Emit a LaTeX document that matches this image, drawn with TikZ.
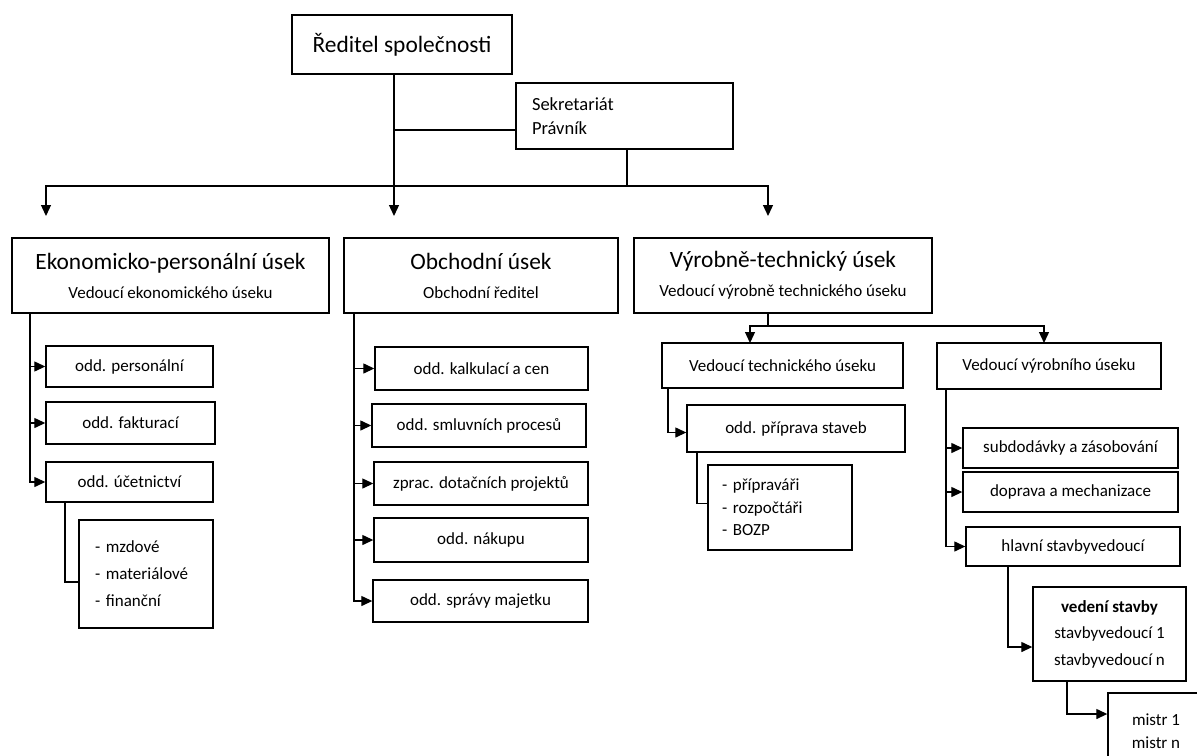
\documentclass[tikz,border=0pt]{standalone}
\usepackage{fontspec}
\setmainfont{Carlito}
\usetikzlibrary{arrows.meta}

\newcommand\fbig{\fontsize{11.7pt}{14pt}\selectfont}
\newcommand\fsm{\fontsize{8.5pt}{11pt}\selectfont}
\newcommand\fsek{\fontsize{9.25pt}{12pt}\selectfont}

\tikzset{
    box/.style={draw, line width=0.7pt, inner sep=0pt, align=center, font=\fsm},
    head/.style={draw, line width=0.7pt, inner sep=0pt, align=center,
        font=\fontsize{8.5pt}{14.5pt}\selectfont},
    line/.style={line width=0.65pt},
    arr/.style={line, -{Triangle[width=5pt,length=5.5pt]}},
}

\begin{document}
\begin{tikzpicture}[x=0.5pt, y=-0.5pt]

    \useasboundingbox (0,0) rectangle (1197,755);
    \clip (0,0) rectangle (1197,755);

    % director and secretariat
    \node[box, minimum width=110pt, minimum height=29.5pt, font=\fbig] (ceo) at (402,44.5) {Ředitel společnosti};
    \node[box, minimum height=33pt, text width=92.5pt, align=left, inner xsep=8pt, font=\fsek] (sekr) at (624.5,116) {Sekretariát\\Právník};

    % divisions
    \node[head, minimum width=158.5pt, minimum height=37.5pt] (eko) at (170.5,275.5) {{\fbig Ekonomicko-personální úsek}\\Vedoucí ekonomického úseku};
    \node[head, minimum width=137pt, minimum height=37.5pt] (obch) at (481,275.5) {{\fbig Obchodní úsek}\\Obchodní ředitel};
    \node[head, minimum width=149pt, minimum height=37.5pt] (vyr) at (783,275.5) {{\fbig Výrobně-technický úsek}\\Vedoucí výrobně technického úseku};

    % economic division
    \node[box, minimum width=83.5pt, minimum height=20.5pt] (pers) at (129.5,366.5) {odd. personální};
    \node[box, minimum width=84.5pt, minimum height=21pt] (fakt) at (130.5,423) {odd. fakturací};
    \node[box, minimum width=83.5pt, minimum height=20pt] (ucet) at (129.5,482) {odd. účetnictví};
    \node[box, minimum height=54pt, text width=51pt, align=left, inner xsep=8pt,
        font=\fontsize{8.5pt}{13.5pt}\selectfont] (ucetsub) at (146,574) {- mzdové\\- materiálové\\- finanční};

    % business division
    \node[box, minimum width=106.5pt, minimum height=21.5pt] (kalk) at (481.5,368.5) {odd. kalkulací a cen};
    \node[box, minimum width=107pt, minimum height=21.5pt] (smlu) at (479,425.5) {odd. smluvních procesů};
    \node[box, minimum width=107pt, minimum height=21.5pt] (dota) at (481,483.5) {zprac. dotačních projektů};
    \node[box, minimum width=107pt, minimum height=22pt] (naku) at (481,540) {odd. nákupu};
    \node[box, minimum width=107.5pt, minimum height=21pt] (sprav) at (480.5,601) {odd. správy majetku};

    % technical part
    \node[box, minimum width=120.5pt, minimum height=22.5pt] (vtech) at (782.5,365.5) {Vedoucí technického úseku};
    \node[box, minimum width=109pt, minimum height=23.5pt] (prip) at (796,428.5) {odd. příprava staveb};
    \node[box, minimum height=42.5pt, text width=58pt, align=left, inner xsep=7pt,
        font=\fontsize{8.5pt}{11.25pt}\selectfont] (pripsub) at (780,507.5) {- přípraváři\\- rozpočtáři\\- BOZP};

    % production part
    \node[box, minimum width=112pt, minimum height=23pt] (vvyr) at (1049,366) {Vedoucí výrobního úseku};
    \node[box, minimum width=107.5pt, minimum height=20pt] (subd) at (1070.5,448) {subdodávky a zásobování};
    \node[box, minimum width=107.5pt, minimum height=20pt] (dopr) at (1070.5,492) {doprava a mechanizace};
    \node[box, minimum width=107pt, minimum height=19.5pt] (hlav) at (1073,546.5) {hlavní stavbyvedoucí};
    \node[box, minimum width=76.5pt, minimum height=47pt, font=\fontsize{8.5pt}{13.25pt}\selectfont] (vede) at (1109.5,634) {\textbf{vedení stavby}\\stavbyvedoucí 1\\stavbyvedoucí n};
    \node[box, minimum width=48pt, minimum height=38.5pt, font=\fontsize{8.5pt}{11.5pt}\selectfont] (mistr) at (1156,731.5) {mistr 1\\mistr n};

    % top connectors
    \coordinate (ceoS) at ([xshift=-4pt]ceo.south);
    \coordinate (sekrS) at ([xshift=1.25pt]sekr.south);
    \coordinate (bus) at (627,186);
    \coordinate (ekoA) at (46,216);
    \coordinate (obchA) at (394,216);
    \coordinate (vyrA) at (768,216);
    \draw[arr] (ceoS) -- (obchA);
    \draw[line] (ceoS |- 0,130) -- ([yshift=-7pt]sekr.west);
    \draw[line] (sekrS) -- (bus);
    \draw[arr] (bus) -| (ekoA);
    \draw[arr] (bus) -| (vyrA);

    % economic division
    \coordinate (ekoT) at (30,313);
    \draw[arr] (ekoT) |- (ucet.west);
    \foreach \n in {pers,fakt}
        \draw[arr] (ekoT |- \n.west) -- (\n.west);
    \draw[line] (65,502) |- ([yshift=-4pt]ucetsub.west);

    % business division
    \coordinate (obchT) at (354,313);
    \draw[arr] (obchT) |- (sprav.west);
    \foreach \n in {kalk,smlu,dota,naku}
        \draw[arr] (obchT |- \n.west) -- (\n.west);

    % production-technical division
    \coordinate (vyrS) at (768,313);
    \coordinate (vyrJ) at (768,326);
    \coordinate (vtechN) at (750,343);
    \coordinate (vvyrN) at (1044,343);
    \draw[line] (vyrS) -- (vyrJ);
    \draw[arr] (vyrJ) -| (vtechN);
    \draw[arr] (vyrJ) -| (vvyrN);

    \draw[arr] (668,388) |- ([yshift=-2pt]prip.west);
    \draw[line] (697,452) |- ([yshift=2pt]pripsub.west);

    \coordinate (vvyrT) at (946,389);
    \draw[arr] (vvyrT) |- (hlav.west);
    \foreach \n in {subd,dopr}
        \draw[arr] (vvyrT |- \n.west) -- (\n.west);
    \draw[arr] (1008,566) |- ([yshift=-6.5pt]vede.west);
    \draw[arr] (1067,681) |- ([yshift=8.75pt]mistr.west);

\end{tikzpicture}
\end{document}
